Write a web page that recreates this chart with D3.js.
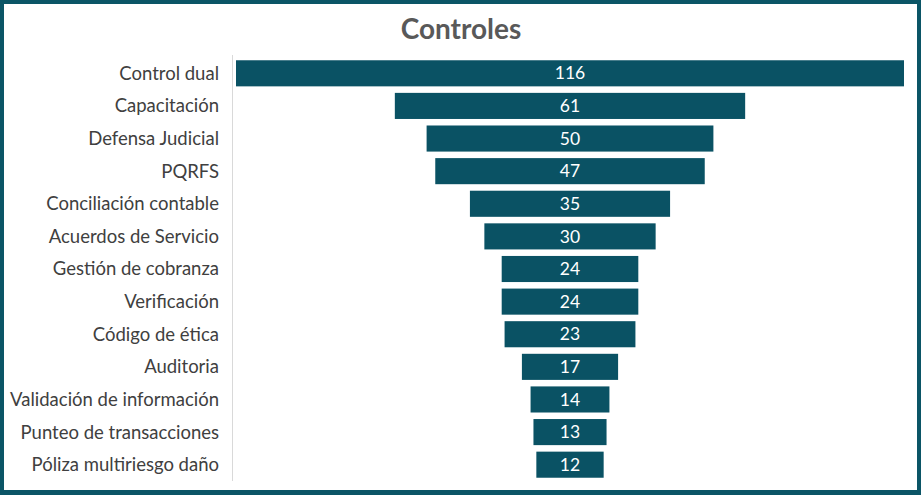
<!DOCTYPE html>
<html><head><meta charset="utf-8">
<script src="https://cdn.jsdelivr.net/npm/d3@7"></script>
<style>html,body{margin:0;padding:0;background:#fff;}svg{display:block;}</style>
</head><body>
<script>
const categories = ["Control dual","Capacitación","Defensa Judicial","PQRFS","Conciliación contable","Acuerdos de Servicio","Gestión de cobranza","Verificación","Código de ética","Auditoria","Validación de información","Punteo de transacciones","Póliza multiriesgo daño"];
const values = [116,61,50,47,35,30,24,24,23,17,14,13,12];
const title = "Controles";

(function(){
const W = 921, H = 495;
const svg = d3.select("body").append("svg").attr("width", W).attr("height", H);
svg.append("rect").attr("x",2).attr("y",2).attr("width",W-4).attr("height",H-5)
  .attr("fill","#fff").attr("stroke","#0b5566").attr("stroke-width",4);
svg.append("rect").attr("x",0).attr("y",H-4).attr("width",W).attr("height",4).attr("fill","#0b5566");

svg.append("text").attr("x",461).attr("y",39).attr("text-anchor","middle")
  .attr("font-family","Lato, 'Open Sans', sans-serif").attr("font-weight","bold")
  .attr("font-size",28).attr("fill","#595959").text(title);

const pl = 235, pr = 905, pt = 57, pb = 481;
const y = d3.scaleBand().domain(categories).range([pt, pb]).paddingInner(0.2).paddingOuter(0.1);
const center = (pl + pr) / 2;
const w = d3.scaleLinear().domain([0, d3.max(values)]).range([0, pr - pl]);

svg.append("line").attr("x1",232.5).attr("x2",232.5).attr("y1",55).attr("y2",481)
  .attr("stroke","#d9d9d9").attr("stroke-width",1);

const g = svg.append("g");
g.selectAll("rect.bar").data(values).join("rect").attr("class","bar")
  .attr("x",(d)=>center - w(d)/2 + 1).attr("width",d=>Math.max(0, w(d) - 2))
  .attr("y",(d,i)=>y(categories[i])).attr("height",y.bandwidth())
  .attr("fill","#0a5264");
g.selectAll("text.val").data(values).join("text").attr("class","val")
  .attr("x",center).attr("y",(d,i)=>y(categories[i])+y.bandwidth()/2)
  .attr("dy","0.35em").attr("text-anchor","middle")
  .attr("font-family","Lato, 'Open Sans', sans-serif").attr("font-size",17.5)
  .attr("fill","#fff").text(d=>d);
g.selectAll("text.cat").data(categories).join("text").attr("class","cat")
  .attr("x",219).attr("y",d=>y(d)+y.bandwidth()/2).attr("dy","0.35em")
  .attr("text-anchor","end").attr("font-family","Lato, 'Open Sans', sans-serif")
  .attr("font-size",18.5).attr("fill","#404040").text(d=>d);
})();
</script>
</body></html>
